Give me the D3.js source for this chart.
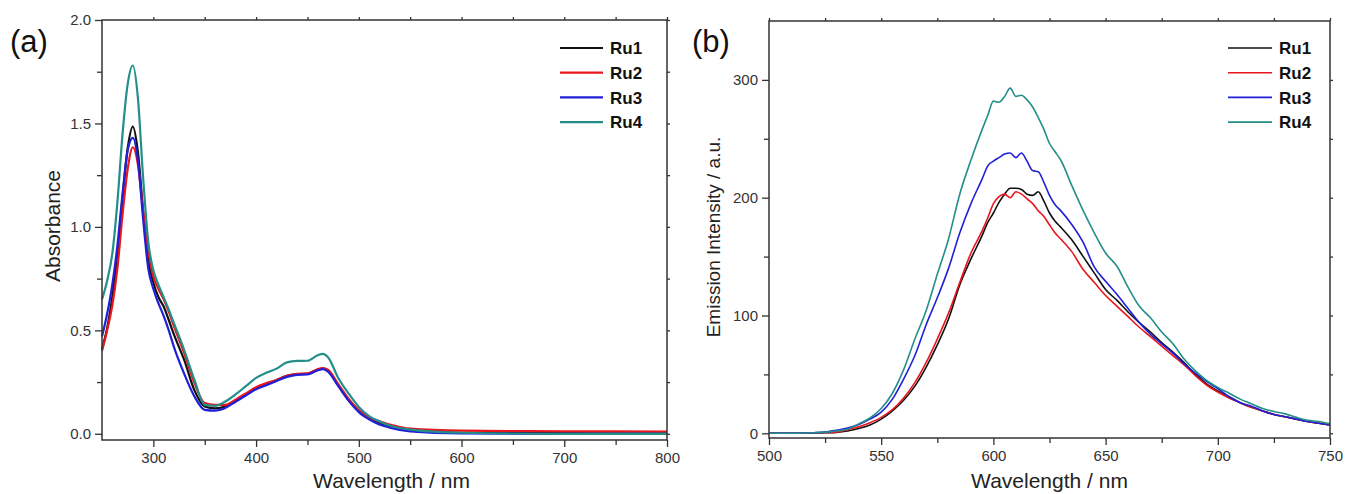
<!DOCTYPE html>
<html>
<head>
<meta charset="utf-8">
<script src="https://cdn.jsdelivr.net/npm/d3@7"></script>
<style>
  body { margin: 0; background: #fff; }
  svg { display: block; font-family: Arial, "Liberation Sans", sans-serif; }
</style>
</head>
<body>
<svg id="chart" width="1346" height="494"></svg>
<script>
// ---- data, panel (a): absorbance ----
var absWl = [250, 255, 260, 265, 270, 275, 280, 285, 290, 295, 300, 305, 310, 315, 320, 330, 340, 350, 360, 370, 380, 390, 400, 410, 420, 430, 440, 450, 460, 465, 470, 480, 490, 500, 510, 520, 530, 550, 600, 700, 800];
var absRu1 = [0.41, 0.51, 0.66, 0.87, 1.14, 1.38, 1.485, 1.36, 1.08, 0.84, 0.73, 0.66, 0.615, 0.55, 0.48, 0.357, 0.21, 0.132, 0.123, 0.132, 0.16, 0.19, 0.22, 0.24, 0.26, 0.28, 0.288, 0.29, 0.31, 0.315, 0.305, 0.235, 0.165, 0.11, 0.075, 0.05, 0.035, 0.015, 0.005, 0.003, 0.002];
var absRu2 = [0.40, 0.50, 0.62, 0.80, 1.06, 1.28, 1.385, 1.30, 1.08, 0.89, 0.76, 0.70, 0.65, 0.59, 0.52, 0.39, 0.245, 0.148, 0.14, 0.14, 0.165, 0.195, 0.225, 0.245, 0.26, 0.28, 0.29, 0.292, 0.312, 0.318, 0.31, 0.24, 0.17, 0.115, 0.08, 0.06, 0.045, 0.025, 0.015, 0.012, 0.011];
var absRu3 = [0.47, 0.58, 0.72, 0.91, 1.16, 1.37, 1.43, 1.32, 1.04, 0.80, 0.70, 0.63, 0.57, 0.50, 0.42, 0.29, 0.18, 0.116, 0.112, 0.125, 0.155, 0.185, 0.215, 0.235, 0.255, 0.275, 0.285, 0.287, 0.307, 0.313, 0.30, 0.23, 0.16, 0.105, 0.07, 0.045, 0.03, 0.012, 0.002, 0.0, 0.0];
var absRu4 = [0.65, 0.74, 0.87, 1.12, 1.45, 1.69, 1.78, 1.62, 1.24, 0.93, 0.79, 0.72, 0.66, 0.60, 0.535, 0.405, 0.26, 0.14, 0.135, 0.156, 0.19, 0.23, 0.27, 0.295, 0.315, 0.345, 0.352, 0.353, 0.38, 0.386, 0.37, 0.27, 0.195, 0.13, 0.085, 0.06, 0.04, 0.02, 0.005, 0.0, 0.0];

// ---- data, panel (b): emission ----
var emWl = [500, 510, 520, 525, 530, 535, 540, 545, 550, 555, 560, 565, 570, 575, 580, 585, 590, 595, 597.5, 600, 602.5, 605, 607.5, 610, 612.5, 615, 617.5, 620, 622.5, 625, 627.5, 630, 635, 640, 645, 650, 655, 660, 665, 670, 675, 680, 685, 690, 695, 700, 705, 710, 715, 720, 725, 730, 735, 740, 745, 750];
var emRu1 = [0, 0, 0.2, 0.4, 0.8, 2, 4, 7, 12, 19, 28, 40, 56, 75, 97, 126, 148, 168, 179, 187, 196, 203, 208, 208, 207, 203, 202, 205, 197, 187, 180, 175, 164, 150, 136, 122, 113, 103, 94, 86, 77, 69, 60, 50, 42, 36, 31, 26, 22, 19, 16, 14, 12, 10, 8.5, 7];
var emRu2 = [0, 0, 0.3, 0.6, 1, 3, 5.5, 9, 13.5, 20, 30, 43, 60, 80, 102, 128, 153, 172, 183, 195, 201, 203, 200, 205, 203, 199, 195, 189, 184, 177, 170, 165, 154, 139, 128, 117, 108, 99, 90, 82, 74, 66, 58, 49, 41, 35, 30, 26, 22, 19, 16, 14, 12, 10, 8.5, 7];
var emRu3 = [0, 0, 0.5, 1, 2.5, 4.5, 7.5, 12, 18, 29, 46, 66, 92, 115, 140, 170, 195, 216, 227, 231, 234, 237, 238, 234, 238, 231, 223, 222, 213, 202, 194, 189, 177, 162, 141, 129, 118, 106, 94, 84, 76, 68, 59, 51, 44, 38, 31, 26, 23, 19, 16, 14, 12, 10, 8.5, 7];
var emRu4 = [0, 0, 0.5, 1, 2, 3.5, 8, 13, 21, 34, 54, 80, 104, 135, 165, 203, 232, 258, 270, 282, 281, 286, 293, 286, 287, 283, 277, 268, 258, 246, 239, 232, 210, 189, 170, 153, 142, 124, 108, 98, 86, 76, 63, 53, 45, 39, 34, 29, 25, 21, 18.5, 16.5, 13.5, 11, 10, 8];

var names = ["Ru1", "Ru2", "Ru3", "Ru4"];
var colors = ["#111111", "#e8161d", "#2020d8", "#238e8a"];

var svg = d3.select("#chart");

function drawPanel(opt) {
  var x = d3.scaleLinear().domain(opt.xDomain).range([opt.left, opt.right]);
  var y = d3.scaleLinear().domain(opt.yDomain).range([opt.bottom, opt.top]);
  var g = svg.append("g");

  // curves
  opt.series.forEach(function(vals, i) {
    var pts = opt.wl.map(function(w, j) { return [w, vals[j]]; });
    g.append("path")
      .datum(pts)
      .attr("fill", "none")
      .attr("stroke", colors[i])
      .attr("stroke-width", opt.lineWidth)
      .attr("stroke-linejoin", "round")
      .attr("d", d3.line().curve(d3.curveMonotoneX)
        .x(function(d) { return x(d[0]); })
        .y(function(d) { return y(d[1]); }));
  });

  // frame
  g.append("rect")
    .attr("x", opt.left).attr("y", opt.top)
    .attr("width", opt.right - opt.left).attr("height", opt.bottom - opt.top)
    .attr("fill", "none").attr("stroke", "#333").attr("stroke-width", 1.5);

  // bottom axis
  var xb = g.append("g").attr("transform", "translate(0," + opt.bottom + ")")
    .call(d3.axisBottom(x).tickValues(opt.xMinor).tickSize(5).tickFormat(""));
  xb.append("g").call(d3.axisBottom(x).tickValues(opt.xTicks).tickSize(7).tickPadding(5).tickFormat(d3.format("d")));
  // left axis
  var yl = g.append("g").attr("transform", "translate(" + opt.left + ",0)")
    .call(d3.axisLeft(y).tickValues(opt.yMinor).tickSize(5).tickFormat(""));
  yl.append("g").call(d3.axisLeft(y).tickValues(opt.yTicks).tickSize(7).tickPadding(4).tickFormat(opt.yFormat));
  // mirrored small ticks on top and right
  g.append("g").attr("transform", "translate(0," + opt.top + ")")
    .call(d3.axisTop(x).tickValues(opt.xTicks.concat(opt.xMinor)).tickSize(3).tickFormat(""));
  g.append("g").attr("transform", "translate(" + opt.right + ",0)")
    .call(d3.axisRight(y).tickValues(opt.yTicks.concat(opt.yMinor)).tickSize(3).tickFormat(""));

  g.selectAll(".domain").remove();
  g.selectAll(".tick line").attr("stroke", "#333").attr("stroke-width", 1.3);
  g.selectAll(".tick text").attr("fill", "#333").style("font-size", "15px")
    .style("font-family", "Arial, 'Liberation Sans', sans-serif");

  // axis titles
  g.append("text")
    .attr("x", (opt.left + opt.right) / 2 + opt.xTitleDx).attr("y", 488)
    .attr("text-anchor", "middle").attr("fill", "#222")
    .style("font-size", "21px").text("Wavelength / nm");
  g.append("text")
    .attr("transform", "translate(" + opt.yTitleX + "," + opt.yTitleY + ") rotate(-90)")
    .attr("text-anchor", "middle").attr("dy", "0.35em").attr("fill", "#222")
    .style("font-size", opt.yTitleSize).text(opt.yTitle);

  // panel letter
  g.append("text")
    .attr("x", opt.letterX).attr("y", 52)
    .attr("fill", "#111").style("font-size", "31px").text(opt.letter);

  // legend
  var leg = g.append("g");
  names.forEach(function(n, i) {
    var ly = 48 + i * 24.7;
    leg.append("line")
      .attr("x1", opt.legX).attr("x2", opt.legX + opt.legLen)
      .attr("y1", ly).attr("y2", ly)
      .attr("stroke", colors[i]).attr("stroke-width", opt.lineWidth);
    leg.append("text")
      .attr("x", opt.legX + opt.legLen + 7).attr("y", ly).attr("dy", "0.36em")
      .attr("fill", "#111").style("font-size", "17px").style("font-weight", "bold")
      .text(n);
  });
}

drawPanel({
  wl: absWl, series: [absRu1, absRu2, absRu3, absRu4],
  xDomain: [250, 800], yDomain: [-0.03, 2.0],
  left: 102, right: 667, top: 20, bottom: 440,
  xTicks: [300, 400, 500, 600, 700, 800], xMinor: [350, 450, 550, 650, 750],
  yTicks: [0, 0.5, 1.0, 1.5, 2.0], yMinor: [0.25, 0.75, 1.25, 1.75],
  yFormat: d3.format(".1f"),
  lineWidth: 2.2, xTitleDx: 7,
  yTitle: "Absorbance", yTitleX: 53, yTitleY: 226, yTitleSize: "21px",
  letter: "(a)", letterX: 10,
  legX: 560, legLen: 43
});

drawPanel({
  wl: emWl, series: [emRu1, emRu2, emRu3, emRu4],
  xDomain: [500, 750], yDomain: [-4, 350],
  left: 769, right: 1330, top: 21, bottom: 438,
  xTicks: [500, 550, 600, 650, 700, 750], xMinor: [525, 575, 625, 675, 725],
  yTicks: [0, 100, 200, 300], yMinor: [50, 150, 250],
  yFormat: d3.format("d"),
  lineWidth: 1.6, xTitleDx: 0,
  yTitle: "Emission Intensity / a.u.", yTitleX: 713, yTitleY: 237, yTitleSize: "19px",
  letter: "(b)", letterX: 692,
  legX: 1228, legLen: 44
});
</script>
</body>
</html>
